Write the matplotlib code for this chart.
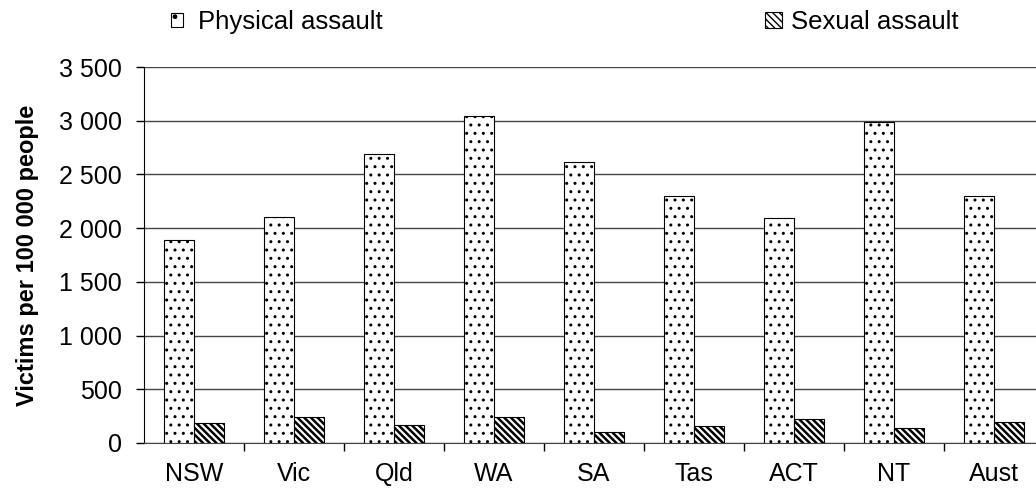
import numpy as np
import matplotlib
matplotlib.use('Agg')
import matplotlib.pyplot as plt
from matplotlib.patches import Patch
from matplotlib.ticker import FuncFormatter

# Victims per 100 000 people, by state/territory
STATES = ["NSW", "Vic", "Qld", "WA", "SA", "Tas", "ACT", "NT", "Aust"]
PHYSICAL = [1890, 2105, 2690, 3040, 2615, 2295, 2090, 2990, 2295]
SEXUAL = [185, 240, 170, 240, 100, 155, 220, 135, 200]

plt.rcParams['font.family'] = ['Liberation Sans', 'DejaVu Sans']
plt.rcParams['hatch.color'] = 'black'
plt.rcParams['hatch.linewidth'] = 1.0

DOTS = '..'
STRIPES = '\\\\\\\\\\'


def thick_hatch(patches, lw):
    for p in patches:
        if hasattr(p, 'set_hatch_linewidth'):
            p.set_hatch_linewidth(lw)


fig = plt.figure(figsize=(10.36, 4.88), dpi=100)
ax = fig.add_axes([144 / 1036, 45 / 488, 900 / 1036, 376 / 488])

x = np.arange(len(STATES))
bw = 0.3
ax.bar(x - bw / 2, PHYSICAL, bw, color='white', edgecolor='black',
       linewidth=0.8, hatch=DOTS, zorder=3)
sx = ax.bar(x + bw / 2, SEXUAL, bw, color='white', edgecolor='black',
            linewidth=0.8, hatch=STRIPES, zorder=3)
thick_hatch(sx, 1.8)

ax.set_xlim(-0.5, len(STATES) - 0.5)
ax.set_ylim(0, 3500)
ax.set_yticks(np.arange(0, 3501, 500))
ax.yaxis.set_major_formatter(FuncFormatter(lambda v, p: f"{int(v):,}".replace(",", " ")))
ax.grid(axis='y', color='#444444', linewidth=1, zorder=0)
ax.set_axisbelow(True)

# category boundaries get the tick marks, centres get the labels
ax.set_xticks(x[:-1] + 0.5)
ax.set_xticklabels([])
ax.set_xticks(x, minor=True)
ax.set_xticklabels(STATES, minor=True)
ax.tick_params(axis='x', which='major', length=6, width=1, direction='out')
ax.tick_params(axis='x', which='minor', length=0, pad=14, labelsize=18)
ax.tick_params(axis='y', length=6, width=1, pad=10, labelsize=18)

for side in ['top', 'right']:
    ax.spines[side].set_visible(False)
ax.spines['left'].set_color('black')
ax.spines['bottom'].set_color('#444444')

ax.set_ylabel('Victims per 100 000 people', fontsize=17, fontweight='bold', labelpad=14)

h1 = Patch(facecolor='white', edgecolor='black', linewidth=0.8, hatch='.')
h2 = Patch(facecolor='white', edgecolor='black', linewidth=0.8, hatch=STRIPES)
thick_hatch([h2], 1.8)
fig.legend(handles=[h1], labels=['Physical assault'], loc='center left',
           bbox_to_anchor=(171 / 1036, 1 - 22 / 488), frameon=False, fontsize=18.5,
           handlelength=0.45, handleheight=0.45, handletextpad=0.6,
           borderpad=0, borderaxespad=0)
fig.legend(handles=[h2], labels=['Sexual assault'], loc='center left',
           bbox_to_anchor=(765 / 1036, 1 - 22 / 488), frameon=False, fontsize=18.5,
           handlelength=0.65, handleheight=0.55, handletextpad=0.35,
           borderpad=0, borderaxespad=0)

fig.savefig('out.png', dpi=100)
